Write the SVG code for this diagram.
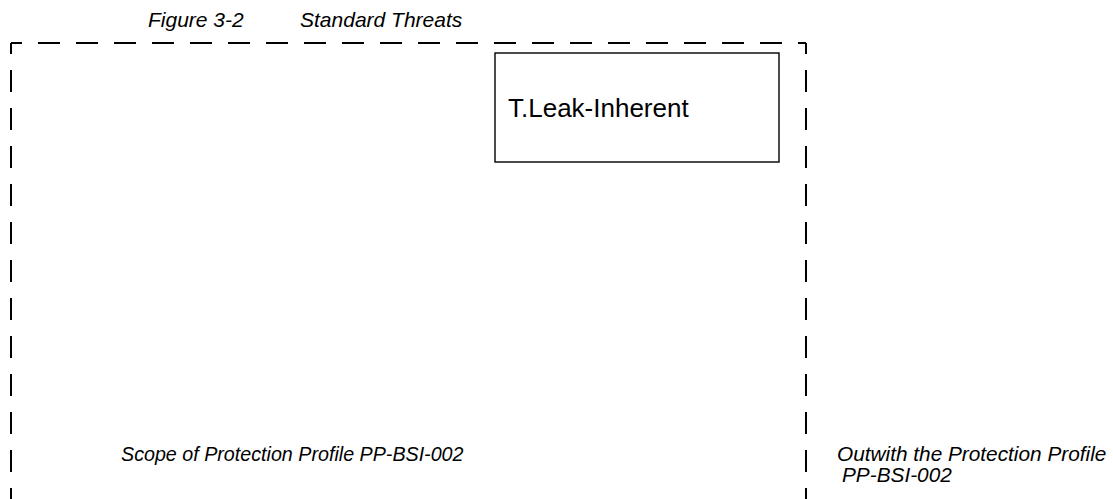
<svg xmlns="http://www.w3.org/2000/svg" width="1113" height="499" viewBox="0 0 1113 499">
<style>
.bd{fill:none;stroke:#000;stroke-width:2;stroke-dasharray:22 16;stroke-dashoffset:11}
.box{fill:#fff;stroke:#000;stroke-width:1.4}
.it{font-family:"Liberation Sans",Arial,sans-serif;font-style:italic;fill:#000}
.lb{font-family:"Liberation Sans",Arial,sans-serif;fill:#000;font-size:26px}
</style>
<rect width="1113" height="499" fill="#fff"/>
<text class="it" x="148" y="27" font-size="21">Figure 3-2</text>
<text class="it" x="300" y="27" font-size="21">Standard Threats</text>
<g id="scope">
<line class="bd" x1="11" y1="43" x2="806" y2="43"/>
<line class="bd" x1="11" y1="43" x2="11" y2="520"/>
<line class="bd" x1="806" y1="43" x2="806" y2="520"/>
<text class="it" x="121" y="461" font-size="19.7">Scope of Protection Profile PP-BSI-002</text>
<text class="it" x="837" y="461" font-size="20.8">Outwith the Protection Profile</text>
<text class="it" x="842" y="482" font-size="20.8">PP-BSI-002</text>
</g>
<g id="t-leak-inherent">
<rect class="box" x="495" y="53" width="284" height="109"/>
<text class="lb" x="508" y="117">T.Leak-Inherent</text>
</g>
<g id="connectors"></g>
</svg>
